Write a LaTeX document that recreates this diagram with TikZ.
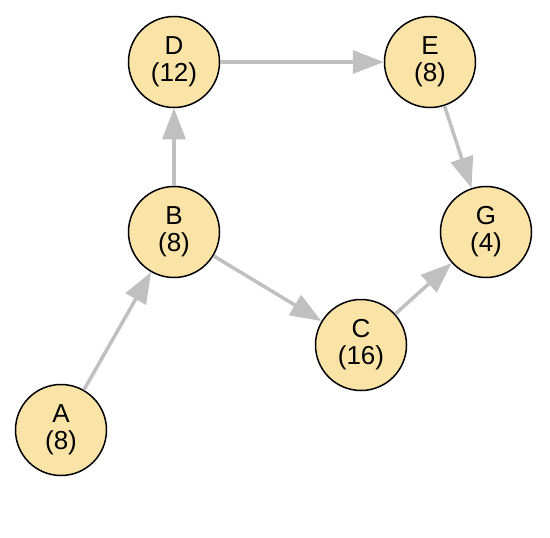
\documentclass[tikz,border=0pt]{standalone}
\usepackage{fontspec}
\setmainfont{Liberation Sans}
\usetikzlibrary{arrows.meta}
\definecolor{nodefill}{HTML}{FAE3A6}
\definecolor{edgegray}{HTML}{C0C0C0}
\begin{document}
\begin{tikzpicture}[x=1pt,y=-1pt,
  vert/.style={circle,draw=black,line width=1.5pt,fill=nodefill,minimum size=91pt,inner sep=0pt,align=center,font=\fontsize{26}{27}\selectfont},
  edge/.style={draw=edgegray,line width=3.5pt,-{Triangle[length=31pt,width=23pt]}}]
\useasboundingbox (0,0) rectangle (550,538);
\node[vert] (D) at (174,62) {D\\(12)};
\node[vert] (E) at (430,62) {E\\(8)};
\node[vert] (B) at (174,232) {B\\(8)};
\node[vert] (G) at (486,232) {G\\(4)};
\node[vert] (C) at (361,345) {C\\(16)};
\node[vert] (A) at (61,430) {A\\(8)};
\draw[edge] (D) -- (E);
\draw[edge] (B) -- (D);
\draw[edge] (E) -- (G);
\draw[edge] (B) -- (C);
\draw[edge] (C) -- (G);
\draw[edge] (A) -- (B);
\end{tikzpicture}
\end{document}
